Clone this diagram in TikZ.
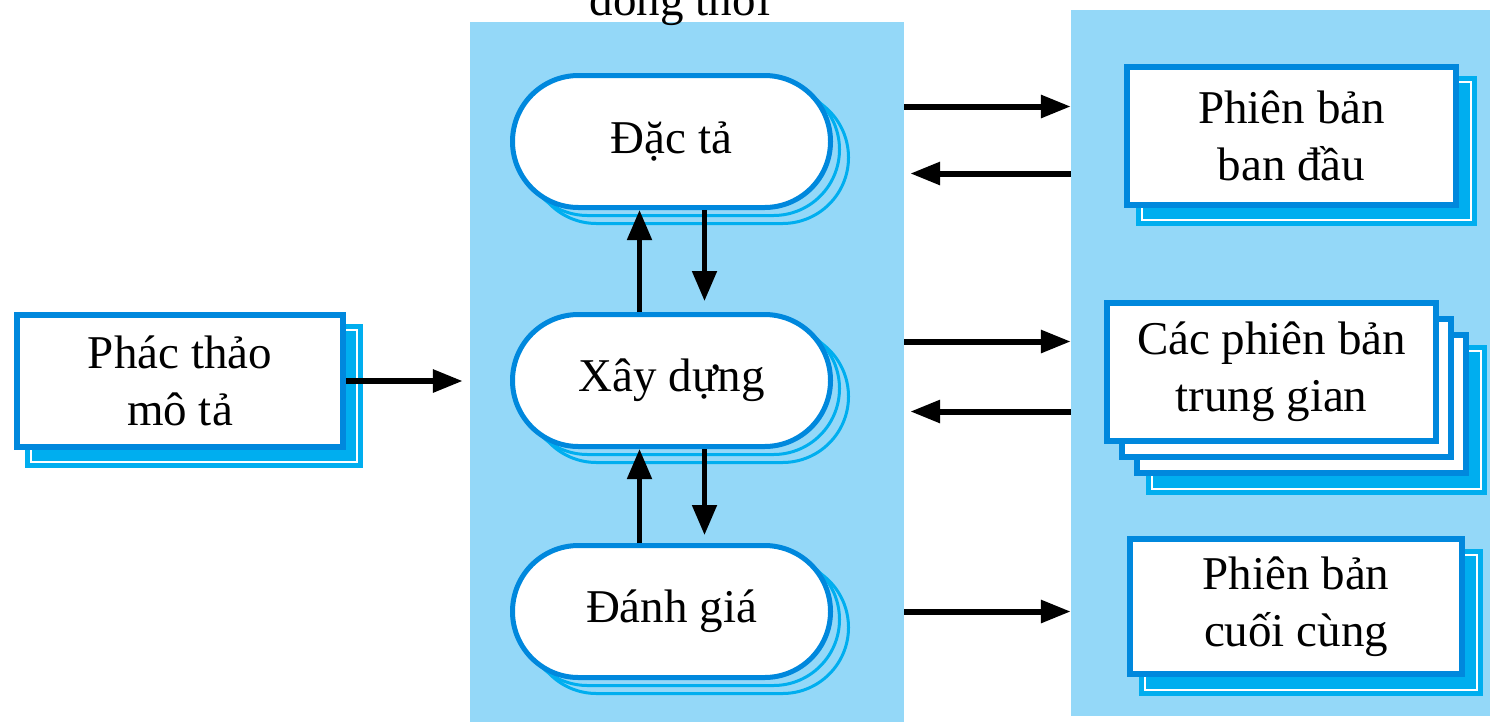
\documentclass[tikz,border=0pt]{standalone}
\usepackage{fontspec}
\setmainfont{Liberation Serif}
\usetikzlibrary{arrows.meta,calc}
\definecolor{panelblue}{RGB}{148,216,248}
\definecolor{lineblue}{RGB}{0,136,221}
\definecolor{shadeblue}{RGB}{0,174,239}
\newcommand{\diagfont}{\fontsize{47pt}{57pt}\selectfont}
\begin{document}
\begin{tikzpicture}[
    x=1pt, y=-1pt,
    font=\diagfont,
    panel/.style={fill=panelblue, inner sep=0pt},
    activity/.style={draw=lineblue, fill=white, line width=5pt, rounded corners=66pt,
      minimum width=318pt, minimum height=132pt, inner sep=0pt},
    actshade/.style={activity, draw=shadeblue, fill=none, line width=3pt},
    version/.style={draw=lineblue, fill=white, line width=6pt, align=center,
      minimum width=329pt, minimum height=138pt, inner sep=0pt},
    vershade/.style={version, draw=shadeblue, fill=shadeblue, line width=5pt,
      double=white, double distance=2pt},
    flowarrow/.style={line width=6pt, -{Triangle[length=30pt,width=22pt]}},
    updown/.style={line width=5pt, -{Triangle[length=30pt,width=24pt]}}
  ]
  \useasboundingbox (0,0) rectangle (1490,721);
  % panels
  \node[panel, minimum width=434pt, minimum height=710pt] (act) at (687,377) {};
  \node[panel, minimum width=430pt, minimum height=706pt] (ver) at (1286,363) {};
  \node[anchor=base] (title) at (680,15) {đồng thời};

  % activities
  \foreach \cy in {141.5,380.5,611.5}{
    \node[actshade] at (671.5+18,\cy+16) {};
    \node[actshade] at (671.5+9,\cy+8) {};
  }
  \node[activity] (spec) at (671.5,141.5) {Đặc tả};
  \node[activity] (build) at (671.5,380.5) {Xây dựng};
  \node[activity] (eval) at (671.5,611.5) {Đánh giá};

  % versions
  \node[vershade] at (1306.5,151) {};
  \node[version] (first) at (1291.5,136) {Phiên bản\\ban đầu};
  \node[vershade] at (1316.5,420) {};
  \node[version] at (1301.5,404) {};
  \node[version] at (1286.5,388) {};
  \node[version] (inter) at (1271.5,372) {Các phiên bản\\trung gian};
  \node[vershade, minimum width=332pt, minimum height=135pt] at (1311,622.5) {};
  \node[version, minimum width=332pt, minimum height=135pt] (final) at (1296,606.5) {Phiên bản\\cuối cùng};
  \node[vershade, minimum width=326pt, minimum height=132pt] at (194,396) {};
  \node[version, minimum width=326pt, minimum height=132pt] (sketch) at (180,381) {Phác thảo\\mô tả};

  % arrows
  \draw[flowarrow] (sketch.east) -- ($(sketch.east -| act.west)+(-7,0)$);
  \draw[flowarrow] ($(spec.center -| act.east)+(0,-35)$) -- ($(spec.center -| ver.west)+(0,-35)$);
  \draw[flowarrow] ($(spec.center -| ver.west)+(0,32)$) -- ($(spec.center -| act.east)+(6,32)$);
  \draw[flowarrow] ($(build.center -| act.east)+(0,-39)$) -- ($(build.center -| ver.west)+(0,-39)$);
  \draw[flowarrow] ($(build.center -| ver.west)+(0,31)$) -- ($(build.center -| act.east)+(6,31)$);
  \draw[flowarrow] (eval.center -| act.east) -- (eval.center -| ver.west);
  \draw[updown] ($(build.north)+(-32,0)$) -- ($(spec.south)+(-32,0)$);
  \draw[updown] ($(spec.south)+(33,0)$) -- ($(build.north)+(33,-11)$);
  \draw[updown] ($(eval.north)+(-32,0)$) -- ($(build.south)+(-32,0)$);
  \draw[updown] ($(build.south)+(33,0)$) -- ($(eval.north)+(33,-8)$);
\end{tikzpicture}
\end{document}
